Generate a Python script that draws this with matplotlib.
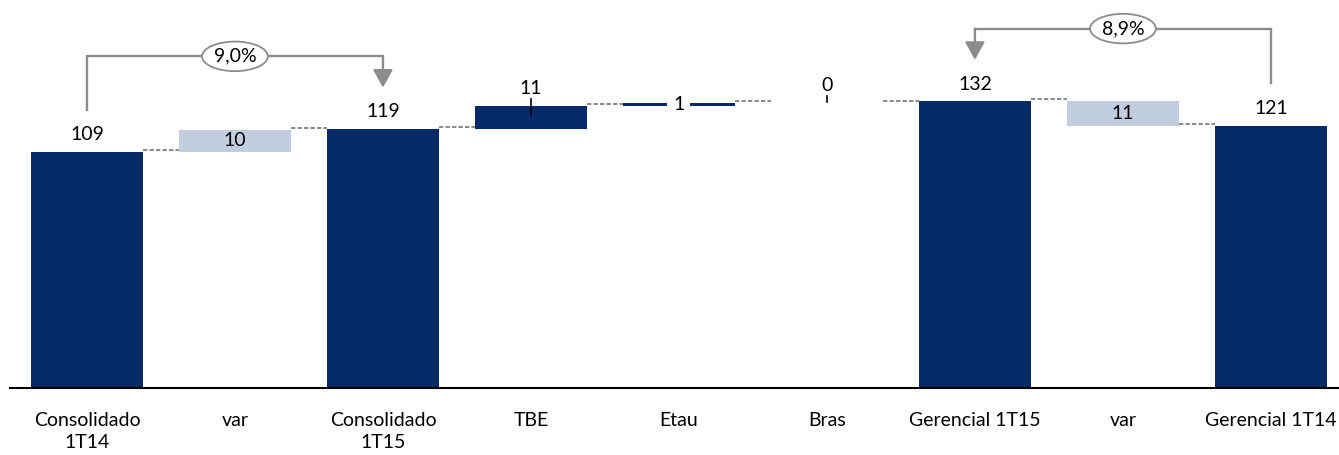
import numpy as np
import matplotlib.pyplot as plt

plt.rcParams['font.family'] = ['Lato', 'DejaVu Sans']

# waterfall data
categories = ['Consolidado\n1T14', 'var', 'Consolidado\n1T15', 'TBE', 'Etau', 'Bras',
              'Gerencial 1T15', 'var', 'Gerencial 1T14']
values = [108.9, 10.3, 119.4, 10.7, 1.2, 0.3, 132.2, 11.2, 121.0]
labels = ['109', '10', '119', '11', '1', '0', '132', '11', '121']
kinds = ['total', 'up', 'total', 'step', 'step', 'step', 'total', 'down', 'total']
growth = [(0, 2, '9,0%'), (8, 6, '8,9%')]

# styling
dark = '#062A68'
light = '#C3CDE0'
gray = '#8C8C8C'
label_pos = ['above', 'inside', 'above', 'above', 'inline', 'above', 'above', 'inside', 'above']
leader_len = [0, 0, 0, 7.4, 0, 2.7, 0, 0, 0]
fs = 14

W, H = 1339, 455
fig = plt.figure(figsize=(W / 100, H / 100), dpi=100)
ax = fig.add_axes([10 / W, 67 / H, 1329 / W, 388 / H])

x = np.arange(len(values))
bottoms = []
running = 0
for i, (v, k) in enumerate(zip(values, kinds)):
    if k == 'total':
        b = 0
        running = v
    elif k == 'up':
        b = values[i - 1]
        running = b + v
    elif k == 'down':
        b = values[i + 1]
    else:
        b = running
        running = b + v
    bottoms.append(b)
bottoms = np.array(bottoms)
tops = bottoms + np.array(values)

colors = [light if k in ('up', 'down') else dark for k in kinds]
bw = 0.757
ax.bar(x, values, bottom=bottoms, width=bw, color=colors, zorder=2)

# dashed connectors
for i in range(len(values) - 1):
    lvl = bottoms[i] if kinds[i] == 'down' else tops[i]
    ax.plot([i + bw / 2, i + 1 - bw / 2], [lvl + 0.9, lvl + 0.9], color='#7F7F7F',
            lw=1.3, linestyle=(0, (2.4, 1.2)), zorder=1)

# value labels
for i in range(len(values)):
    if label_pos[i] == 'above':
        ly = tops[i] + 8.0
        ax.text(i, ly, labels[i], ha='center', va='center', fontsize=fs, color='black')
        if leader_len[i]:
            ax.plot([i, i], [ly - 4.8, ly - 4.8 - leader_len[i]], color='black', lw=1.2, zorder=3)
    elif label_pos[i] == 'inside':
        ax.text(i, (bottoms[i] + tops[i]) / 2, labels[i], ha='center', va='center',
                fontsize=fs, color='black', zorder=3)
    else:
        ax.text(i, (bottoms[i] + tops[i]) / 2, labels[i], ha='center', va='center',
                fontsize=fs, color='black', zorder=3,
                bbox=dict(boxstyle='square,pad=0.3', fc='white', ec='none'))

# growth brackets
for a, b, txt in growth:
    ya = values[a] + 19.5
    yb = values[b] + 19.2
    ytop = max(values[a], values[b]) + 33.6
    ax.plot([a, a, b], [ya, ytop, ytop], color=gray, lw=1.7, solid_joinstyle='miter',
            zorder=1)
    ax.annotate('', xy=(b, yb), xytext=(b, ytop),
                arrowprops=dict(arrowstyle='-|>,head_length=0.9,head_width=0.5',
                                mutation_scale=12, color=gray, lw=1.7,
                                shrinkA=0, shrinkB=0))
    ax.text((a + b) / 2, ytop, txt, ha='center', va='center', fontsize=fs,
            bbox=dict(boxstyle='ellipse,pad=0.1', fc='white', ec=gray, lw=1.3))

ax.set_xlim(-0.52, 8.46)
ax.set_ylim(0, 179)
ax.set_xticks(x)
ax.set_xticklabels(categories, fontsize=fs, linespacing=1.4)
ax.tick_params(axis='x', length=0, pad=17)
ax.set_yticks([])
for s in ['top', 'right', 'left']:
    ax.spines[s].set_visible(False)
ax.spines['bottom'].set_linewidth(1.5)
ax.patch.set_alpha(0)

fig.savefig('out.png', dpi=100)
